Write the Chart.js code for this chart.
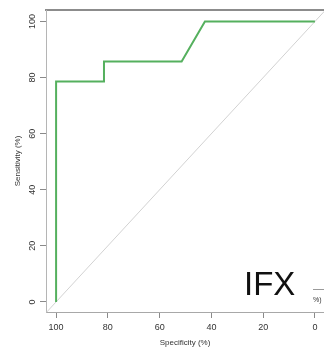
<!DOCTYPE html>
<html><head><meta charset="utf-8">
<script src="https://cdn.jsdelivr.net/npm/chart.js@4/dist/chart.umd.min.js"></script>
<style>html,body{margin:0;padding:0;background:#fff;overflow:hidden}canvas{display:block}</style>
</head><body>
<canvas id="c" width="324" height="353"></canvas>
<script>
// ROC curve (specificity %, sensitivity %)
const specificity = [100, 100, 81.5, 81.5, 51.5, 42.5, 0];
const sensitivity = [0, 78.6, 78.6, 85.7, 85.7, 100, 100];
// chance reference line
const refSpecificity = [104, -4];
const refSensitivity = [-4, 104];
const xTicks = [100, 80, 60, 40, 20, 0];
const yTicks = [0, 20, 40, 60, 80, 100];
const xTitle = 'Specificity (%)';
const yTitle = 'Sensitivity (%)';
const panelLabel = 'IFX';
const legendFragment = '%)';

const FONT = "'Liberation Sans', Arial, Helvetica, sans-serif";
Chart.defaults.font.family = FONT;

const toPts = (xs, ys) => xs.map((x, i) => ({x: x, y: ys[i]}));

const overlay = {
  id: 'overlay',
  afterDraw(chart) {
    const ctx = chart.ctx;
    ctx.save();
    ctx.fillStyle = '#111';
    ctx.font = "33px " + FONT;
    ctx.textBaseline = 'alphabetic';
    ctx.textAlign = 'left';
    ctx.fillText(panelLabel, 244, 295);
    ctx.strokeStyle = '#9a9a9a';
    ctx.lineWidth = 1;
    ctx.beginPath(); ctx.moveTo(313, 289.5); ctx.lineTo(324, 289.5); ctx.stroke();
    ctx.font = "7px " + FONT;
    ctx.fillStyle = '#333';
    ctx.fillText(legendFragment, 313, 302);
    ctx.restore();
  }
};

new Chart(document.getElementById('c'), {
  type: 'scatter',
  data: {
    datasets: [
      {
        data: toPts(refSpecificity, refSensitivity),
        showLine: true, borderColor: '#d2d2d2', borderWidth: 1,
        pointRadius: 0, fill: false, order: 2
      },
      {
        data: toPts(specificity, sensitivity),
        showLine: true, borderColor: '#55b05e', borderWidth: 2,
        pointRadius: 0, fill: false, order: 1, tension: 0
      }
    ]
  },
  options: {
    responsive: false,
    animation: false,
    devicePixelRatio: 1,
    layout: {padding: {top: 10, left: 0, right: 0, bottom: 0}},
    plugins: {legend: {display: false}, tooltip: {enabled: false}},
    scales: {
      x: {
        type: 'linear', position: 'bottom', reverse: true,
        min: -3.5, max: 103.9,
        afterBuildTicks: s => { s.ticks = xTicks.map(v => ({value: v})); },
        afterFit: s => { s.height = 41; },
        grid: {display: true, drawOnChartArea: false, drawTicks: true, tickLength: 6, tickColor: '#8a8a8a', tickWidth: 1},
        border: {display: true, color: '#a8a8a8', width: 1},
        ticks: {color: '#333', font: {size: 9}, padding: 4, maxRotation: 0, minRotation: 0},
        title: {display: true, text: xTitle, color: '#333', font: {size: 8}, padding: {top: 0, bottom: 5}}
      },
      x2: {
        type: 'linear', position: 'top', min: -3.5, max: 103.9, reverse: true,
        afterFit: s => { s.height = 0; },
        grid: {display: false, drawTicks: false},
        border: {display: true, color: '#8c8c8c', width: 2},
        ticks: {display: false}
      },
      y: {
        type: 'linear', position: 'left',
        min: -3.6, max: 104.1,
        afterBuildTicks: s => { s.ticks = yTicks.map(v => ({value: v})); },
        afterFit: s => { s.width = 46; },
        grid: {display: true, drawOnChartArea: false, drawTicks: true, tickLength: 6, tickColor: '#8a8a8a', tickWidth: 1},
        border: {display: true, color: '#b5b5b5', width: 1},
        ticks: {color: '#333', font: {size: 9}, padding: 0, minRotation: 90, maxRotation: 90, crossAlign: 'center'},
        title: {display: true, text: yTitle, color: '#333', font: {size: 8}, padding: {top: 13, bottom: 0}}
      }
    }
  },
  plugins: [overlay]
});
</script>
</body></html>
